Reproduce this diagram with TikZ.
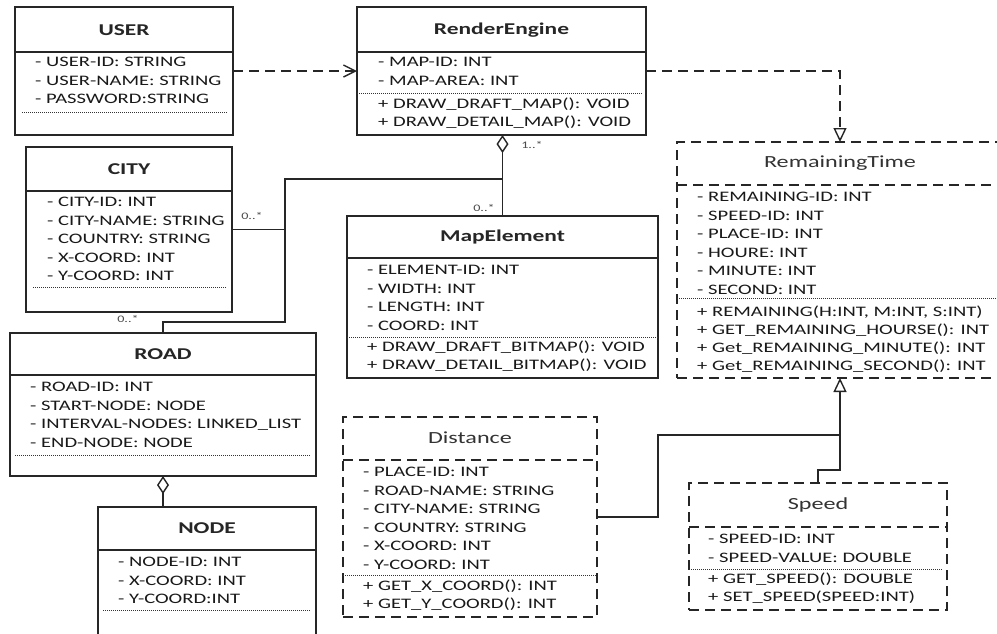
\documentclass[tikz,border=0pt]{standalone}
\usepackage{fontspec}
\setmainfont[FakeStretch=1.42]{Carlito}
\usetikzlibrary{arrows.meta}

% rows of a class compartment, baseline on the first row
\newcommand{\classrows}[1]{\begin{tabular}[t]{@{}l@{}}#1\end{tabular}}

\begin{document}
\begin{tikzpicture}[x=1pt, y=-1pt, line join=miter,
    box/.style={draw=black!85, line width=1.7pt, rectangle, anchor=north west, inner sep=0pt, outer sep=0pt},
    ibox/.style={box, dash pattern=on 10pt off 6pt},
    title/.style={text=black!85, font=\fontsize{16.5}{18}\selectfont\bfseries},
    ititle/.style={text=black!80, font=\fontsize{17}{18}\selectfont},
    attr/.style={text=black!90, anchor=base west, inner sep=0pt, font=\fontsize{14.5}{18.5}\selectfont},
    meth/.style={attr, font=\fontsize{14.5}{18}\selectfont},
    mult/.style={text=black!70, font=\fontsize{10}{12}\selectfont},
    hsep/.style={draw=black!85, line width=1.5pt},
    ihsep/.style={hsep, dash pattern=on 10pt off 6pt},
    dsep/.style={draw=black!80, line width=0.8pt, dash pattern=on 1pt off 1pt},
    link/.style={draw=black!85, line width=1.4pt},
    dep/.style={link, dash pattern=on 10pt off 6pt, -{Straight Barb[length=12pt, width=12pt, line width=1.4pt]}},
    real/.style={link, dash pattern=on 10pt off 6pt, -{Triangle[open, length=14pt, width=13pt, line width=1.4pt]}},
    gen/.style={link, -{Triangle[open, length=14pt, width=13pt, line width=1.4pt]}},
    aggr/.style={link, {Diamond[open, length=18pt, width=12pt, line width=1.4pt]}-},
]
    \useasboundingbox[fill=white] (0,0) rectangle (997,633);

    % class boxes
    \node[box, minimum width=218pt, minimum height=128pt] (user) at (15,7) {};
    \node[box, minimum width=289pt, minimum height=128pt] (render) at (357,7) {};
    \node[box, minimum width=206pt, minimum height=165pt] (city) at (26,147) {};
    \node[box, minimum width=311pt, minimum height=162pt] (mapel) at (347,216) {};
    \node[box, minimum width=306pt, minimum height=143pt] (road) at (10,333) {};
    \node[box, minimum width=218pt, minimum height=130pt] (nodecls) at (98,507) {};
    \node[ibox, minimum width=254pt, minimum height=200pt] (distance) at (343,417) {};
    \node[ibox, minimum width=326pt, minimum height=236pt] (remtime) at (677,142) {};
    \node[ibox, minimum width=258pt, minimum height=127pt] (speed) at (689,483) {};

    % USER
    \node[title] (user-t) at (user.north |- 0,30) {USER};
    \draw[hsep] (user.west |- 0,52) -- (user.east |- 0,52);
    \node[attr] (user-a) at (35,66.5) {\classrows{- USER-ID: STRING\\- USER-NAME: STRING\\- PASSWORD:STRING}};
    \draw[dsep] ([xshift=7pt]user.west |- 0,112) -- ([xshift=-5pt]user.east |- 0,112);

    % RenderEngine
    \node[title] (render-t) at (render.north |- 0,30) {RenderEngine};
    \draw[hsep] (render.west |- 0,52) -- (render.east |- 0,52);
    \node[attr] (render-a) at (378,66.5) {\classrows{- MAP-ID: INT\\- MAP-AREA: INT}};
    \draw[dsep] (render.west |- 0,93) -- ([xshift=-4pt]render.east |- 0,93);
    \node[meth] (render-m) at (378,108.5) {\classrows{+ DRAW\_DRAFT\_MAP(): VOID\\+ DRAW\_DETAIL\_MAP(): VOID}};

    % CITY
    \node[title] (city-t) at (city.north |- 0,169) {CITY};
    \draw[hsep] (city.west |- 0,191) -- (city.east |- 0,191);
    \node[attr] (city-a) at (47,206.5) {\classrows{- CITY-ID: INT\\- CITY-NAME: STRING\\- COUNTRY: STRING\\- X-COORD: INT\\- Y-COORD: INT}};
    \draw[dsep] ([xshift=7pt]city.west |- 0,287) -- ([xshift=-5pt]city.east |- 0,287);

    % MapElement
    \node[title] (mapel-t) at (mapel.north |- 0,237) {MapElement};
    \draw[hsep] (mapel.west |- 0,258) -- (mapel.east |- 0,258);
    \node[attr] (mapel-a) at (367,274.5) {\classrows{- ELEMENT-ID: INT\\- WIDTH: INT\\- LENGTH: INT\\- COORD: INT}};
    \draw[dsep] (mapel.west |- 0,337) -- (mapel.east |- 0,337);
    \node[meth] (mapel-m) at (367,351.5) {\classrows{+ DRAW\_DRAFT\_BITMAP(): VOID\\+ DRAW\_DETAIL\_BITMAP(): VOID}};

    % ROAD
    \node[title] (road-t) at (road.north |- 0,354) {ROAD};
    \draw[hsep] (road.west |- 0,375) -- (road.east |- 0,375);
    \node[attr] (road-a) at (30,391.5) {\classrows{- ROAD-ID: INT\\- START-NODE: NODE\\- INTERVAL-NODES: LINKED\_LIST\\- END-NODE: NODE}};
    \draw[dsep] ([xshift=5pt]road.west |- 0,455) -- ([xshift=-5pt]road.east |- 0,455);

    % NODE
    \node[title] (nodecls-t) at (nodecls.north |- 0,528) {NODE};
    \draw[hsep] (nodecls.west |- 0,550) -- (nodecls.east |- 0,550);
    \node[attr] (nodecls-a) at (118,566.5) {\classrows{- NODE-ID: INT\\- X-COORD: INT\\- Y-COORD:INT}};
    \draw[dsep] ([xshift=5pt]nodecls.west |- 0,610) -- ([xshift=-5pt]nodecls.east |- 0,610);

    % Distance
    \node[ititle] (distance-t) at (distance.north |- 0,438) {Distance};
    \draw[ihsep] (distance.west |- 0,460) -- (distance.east |- 0,460);
    \node[attr] (distance-a) at (363,476.5) {\classrows{- PLACE-ID: INT\\- ROAD-NAME: STRING\\- CITY-NAME: STRING\\- COUNTRY: STRING\\- X-COORD: INT\\- Y-COORD: INT}};
    \draw[dsep] (distance.west |- 0,575) -- (distance.east |- 0,575);
    \node[meth] (distance-m) at (363,590.5) {\classrows{+ GET\_X\_COORD(): INT\\+ GET\_Y\_COORD(): INT}};

    % RemainingTime
    \node[ititle] (remtime-t) at (remtime.north |- 0,163) {RemainingTime};
    \draw[ihsep] (remtime.west |- 0,185) -- (remtime.east |- 0,185);
    \node[attr] (remtime-a) at (697,201.5) {\classrows{- REMAINING-ID: INT\\- SPEED-ID: INT\\- PLACE-ID: INT\\- HOURE: INT\\- MINUTE: INT\\- SECOND: INT}};
    \draw[dsep] (remtime.west |- 0,298) -- (remtime.east |- 0,298);
    \node[meth] (remtime-m) at (697,316.5) {\classrows{+ REMAINING(H:INT, M:INT, S:INT)\\+ GET\_REMAINING\_HOURSE(): INT\\+ Get\_REMAINING\_MINUTE(): INT\\+ Get\_REMAINING\_SECOND(): INT}};

    % Speed
    \node[ititle] (speed-t) at (speed.north |- 0,505) {Speed};
    \draw[ihsep] (speed.west |- 0,527) -- (speed.east |- 0,527);
    \node[attr] (speed-a) at (708,543.5) {\classrows{- SPEED-ID: INT\\- SPEED-VALUE: DOUBLE}};
    \draw[dsep] (speed.west |- 0,569) -- ([xshift=-4pt]speed.east |- 0,569);
    \node[meth] (speed-m) at (708,583.5) {\classrows{+ GET\_SPEED(): DOUBLE\\+ SET\_SPEED(SPEED:INT)}};

    % junctions
    \coordinate (cj) at (285,179);
    \coordinate (dk) at (658,435);
    \coordinate (dj) at (840,435);

    % connectors
    \draw[dep] (user) -- (render);
    \draw[real] (render.east) -| (remtime.north);
    \draw[aggr] (mapel.north |- render.south) -- (mapel.north);
    \draw[link] (city.east) -- (city.east -| cj);
    \draw[link] (road.north) -- ++(0,-11) -| (cj) -- (cj -| mapel.north);
    \draw[aggr] (road.south) -- (road.south |- nodecls.north);
    \draw[gen] (distance.east) -| (dk) -- (dj) -- (remtime.south);
    \draw[link] (speed.north) -- ++(0,-13) -| (dj);

    % multiplicities
    \node[mult] (m1) at (532,145) {1..*};
    \node[mult] (m2) at (484,208) {0..*};
    \node[mult] (m3) at (252,216) {0..*};
    \node[mult] (m4) at (128,319) {0..*};
\end{tikzpicture}
\end{document}
